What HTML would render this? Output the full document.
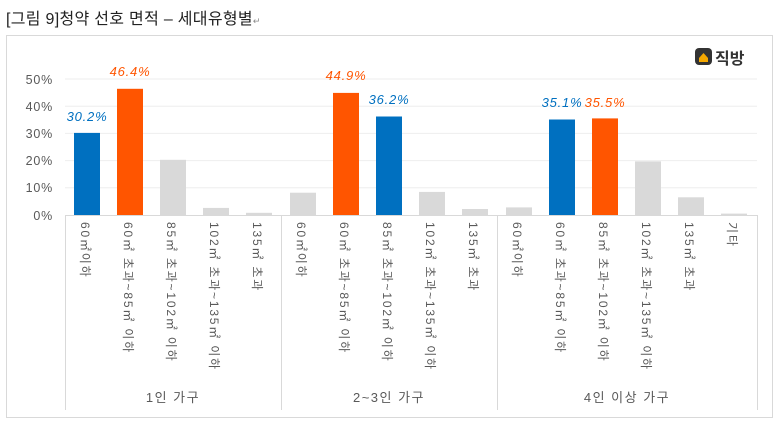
<!DOCTYPE html>
<html><head><meta charset="utf-8"><style>
body{margin:0;background:#fff;width:779px;height:425px;overflow:hidden;font-family:"Liberation Sans","Noto Sans CJK KR",sans-serif}
</style></head><body>
<svg width="779" height="425" xmlns="http://www.w3.org/2000/svg" font-family="Liberation Sans, Noto Sans CJK KR, sans-serif">
<text x="6" y="24" font-size="16" fill="#222" letter-spacing="0.3">[그림 9]청약 선호 면적 – 세대유형별<tspan font-size="9" fill="#888">↵</tspan></text>
<rect x="6.5" y="35.5" width="766" height="382" fill="#fff" stroke="#d9d9d9"/>
<g stroke="#eeeeee">
<line x1="65" x2="757" y1="79" y2="79"/><line x1="65" x2="757" y1="106.2" y2="106.2"/>
<line x1="65" x2="757" y1="133.4" y2="133.4"/><line x1="65" x2="757" y1="160.6" y2="160.6"/>
<line x1="65" x2="757" y1="187.8" y2="187.8"/>
</g>
<g font-size="12.5" fill="#595959" text-anchor="end" letter-spacing="0.8">
<text x="53" y="84">50%</text><text x="53" y="111">40%</text><text x="53" y="138">30%</text>
<text x="53" y="165">20%</text><text x="53" y="192">10%</text><text x="53" y="220">0%</text>
</g>
<g stroke="#d9d9d9">
<line x1="65" x2="757" y1="215.5" y2="215.5"/>
<line x1="65.5" x2="65.5" y1="215" y2="410"/><line x1="281.5" x2="281.5" y1="215" y2="410"/>
<line x1="497.5" x2="497.5" y1="215" y2="410"/><line x1="757.5" x2="757.5" y1="215" y2="410"/>
</g>
<g>
<rect x="74" y="132.9" width="26" height="82.1" fill="#0070c0"/>
<rect x="117" y="88.8" width="26" height="126.2" fill="#ff5500"/>
<rect x="160" y="159.8" width="26" height="55.2" fill="#d9d9d9"/>
<rect x="203" y="207.9" width="26" height="7.1" fill="#d9d9d9"/>
<rect x="246" y="212.8" width="26" height="2.2" fill="#d9d9d9"/>
<rect x="290" y="192.7" width="26" height="22.3" fill="#d9d9d9"/>
<rect x="333" y="92.9" width="26" height="122.1" fill="#ff5500"/>
<rect x="376" y="116.5" width="26" height="98.5" fill="#0070c0"/>
<rect x="419" y="191.9" width="26" height="23.1" fill="#d9d9d9"/>
<rect x="462" y="209" width="26" height="6" fill="#d9d9d9"/>
<rect x="506" y="207.4" width="26" height="7.6" fill="#d9d9d9"/>
<rect x="549" y="119.5" width="26" height="95.5" fill="#0070c0"/>
<rect x="592" y="118.4" width="26" height="96.6" fill="#ff5500"/>
<rect x="635" y="161.4" width="26" height="53.6" fill="#d9d9d9"/>
<rect x="678" y="197.3" width="26" height="17.7" fill="#d9d9d9"/>
<rect x="721" y="213.6" width="26" height="1.4" fill="#d9d9d9"/>
</g>
<g font-size="13" font-style="italic" text-anchor="middle" letter-spacing="0.8">
<text x="87" y="121" fill="#0070c0">30.2%</text>
<text x="130" y="76" fill="#ff5500">46.4%</text>
<text x="346" y="80" fill="#ff5500">44.9%</text>
<text x="389" y="104" fill="#0070c0">36.2%</text>
<text x="562" y="107" fill="#0070c0">35.1%</text>
<text x="605" y="107" fill="#ff5500">35.5%</text>
</g>
<g font-size="12" fill="#595959" letter-spacing="1.8">
<text transform="translate(81,222) rotate(90)">60㎡이하</text>
<text transform="translate(124,222) rotate(90)">60㎡ 초과~85㎡ 이하</text>
<text transform="translate(167,222) rotate(90)">85㎡ 초과~102㎡ 이하</text>
<text transform="translate(210,222) rotate(90)">102㎡ 초과~135㎡ 이하</text>
<text transform="translate(253,222) rotate(90)">135㎡ 초과</text>
<text transform="translate(297,222) rotate(90)">60㎡이하</text>
<text transform="translate(340,222) rotate(90)">60㎡ 초과~85㎡ 이하</text>
<text transform="translate(383,222) rotate(90)">85㎡ 초과~102㎡ 이하</text>
<text transform="translate(426,222) rotate(90)">102㎡ 초과~135㎡ 이하</text>
<text transform="translate(469,222) rotate(90)">135㎡ 초과</text>
<text transform="translate(513,222) rotate(90)">60㎡이하</text>
<text transform="translate(556,222) rotate(90)">60㎡ 초과~85㎡ 이하</text>
<text transform="translate(599,222) rotate(90)">85㎡ 초과~102㎡ 이하</text>
<text transform="translate(642,222) rotate(90)">102㎡ 초과~135㎡ 이하</text>
<text transform="translate(685,222) rotate(90)">135㎡ 초과</text>
<text transform="translate(728,222) rotate(90)">기타</text>
</g>
<g font-size="13" fill="#595959" text-anchor="middle" letter-spacing="1.5">
<text x="173" y="402">1인 가구</text>
<text x="389" y="402">2~3인 가구</text>
<text x="627" y="402">4인 이상 가구</text>
</g>
<g>
<rect x="695" y="48" width="17" height="17" rx="4" fill="#333"/>
<path d="M699 58 L703.5 53 L708 58 L708 62 L699 62 Z" fill="#f5a800"/>
<text x="715" y="64" font-size="16" font-weight="bold" fill="#333">직방</text>
</g>
</svg>
</body></html>
